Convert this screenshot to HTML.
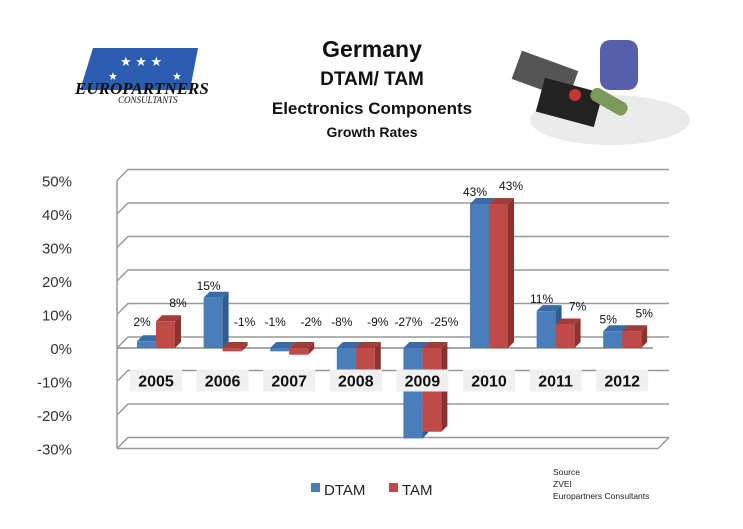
<!DOCTYPE html>
<html><head><meta charset="utf-8"><style>
body{margin:0;background:#fff;width:743px;height:524px;overflow:hidden;font-family:"Liberation Sans",sans-serif}
</style></head><body>
<svg width="743" height="524" id="svg" xmlns="http://www.w3.org/2000/svg">
<g>
<polygon points="93,48 198,48 190,90 80,90" fill="#2a5db0"/>
<text x="120" y="66" fill="#fff" font-size="13">★ ★ ★</text>
<text x="108" y="80" fill="#fff" font-size="11">★</text><text x="172" y="80" fill="#fff" font-size="11">★</text>
<text x="75" y="94" font-family="Liberation Serif" font-style="italic" font-weight="bold" font-size="17" fill="#111">EUROPARTNERS</text>
<text x="118" y="103" font-family="Liberation Serif" font-style="italic" font-size="9" fill="#111">CONSULTANTS</text>
</g>
<g>
<ellipse cx="610" cy="120" rx="80" ry="25" fill="#ddd" opacity="0.6"/>
<rect x="600" y="40" width="38" height="50" rx="10" fill="#5560a8"/>
<rect x="515" y="60" width="60" height="30" fill="#555" transform="rotate(20 545 75)"/>
<rect x="540" y="85" width="60" height="35" fill="#222" transform="rotate(15 570 100)"/>
<rect x="590" y="95" width="40" height="14" rx="6" fill="#7a9a5a" transform="rotate(30 610 100)"/>
<circle cx="575" cy="95" r="6" fill="#c33"/>
</g>
<g font-weight="bold" text-anchor="middle" fill="#111">
<text x="372" y="57" font-size="23">Germany</text>
<text x="372" y="85" font-size="19">DTAM/ TAM</text>
<text x="372" y="114" font-size="17">Electronics Components</text>
<text x="372" y="137" font-size="14">Growth Rates</text>
</g>
<g id="plot"></g>
<g font-size="15" fill="#222">
<rect x="311" y="483" width="9" height="9" fill="#4a7ebb"/>
<text x="324" y="495">DTAM</text>
<rect x="389" y="483" width="9" height="9" fill="#be4b48"/>
<text x="402" y="495">TAM</text>
</g>
<g font-size="8.5" fill="#222">
<text x="553" y="475">Source</text><text x="553" y="487">ZVEI</text><text x="553" y="499">Europartners Consultants</text>
</g>
</svg>
<script>
const categories=["2005","2006","2007","2008","2009","2010","2011","2012"];
const dtam=[2,15,-1,-8,-27,43,11,5];
const tam=[8,-1,-2,-9,-25,43,7,5];
const yTicks=[50,40,30,20,10,0,-10,-20,-30];
const NS="http://www.w3.org/2000/svg";
const plot=document.getElementById('plot');
const D=11, x0=117, x1=658;
function y(v){return 348-v*3.35;}
function cx(i){return 156+i*66.6;}
function mk(tag,attrs,parent){const e=document.createElementNS(NS,tag);for(const k in attrs)e.setAttribute(k,attrs[k]);(parent||plot).appendChild(e);return e;}
yTicks.forEach(v=>{
  const l=mk('polyline',{points:`${x0},${y(v)} ${x0+D},${y(v)-D} ${x1+D},${y(v)-D}`,fill:'none',stroke:'#999','stroke-width':1.5});
  
  
  const t=mk('text',{x:72,y:y(v)+6,'text-anchor':'end','font-size':15,fill:'#333'});
  t.textContent=v+'%';
  
  
});
mk('line',{x1:x0,y1:y(50),x2:x0,y2:y(-30),stroke:'#999','stroke-width':1.5});
mk('polyline',{points:`${x0},${y(-30)} ${x1},${y(-30)} ${x1+D},${y(-30)-D}`,fill:'none',stroke:'#999','stroke-width':1.5});
mk('line',{x1:x0,y1:y(0),x2:x1-5,y2:y(0),stroke:'#888','stroke-width':1.5});
function bar(x,v,front,side,top,name){
  const w=19,d=6;const a=y(Math.max(v,0)),b=y(Math.min(v,0));
  const g=mk('g',{});
  
  
  mk('polygon',{points:`${x+w},${a} ${x+w+d},${a-d} ${x+w+d},${b-d} ${x+w},${b}`,fill:side},g);
  mk('polygon',{points:`${x},${a} ${x+d},${a-d} ${x+w+d},${a-d} ${x+w},${a}`,fill:top},g);
  mk('rect',{x:x,y:a,width:w,height:Math.max(b-a,1),fill:front},g);
}
categories.forEach((c,i)=>{
  const x=cx(i);
  bar(x-19,dtam[i],'#4a7ebb','#2f5c92','#3a6aa8','bar-dtam-'+c);
  bar(x,tam[i],'#be4b48','#8c3330','#a33d3a','bar-tam-'+c);
  const l1=mk('text',{x:x-14,y:(dtam[i]>3?y(dtam[i])-8:y(0)-22),'text-anchor':'middle','font-size':12,fill:'#111'});
  l1.textContent=dtam[i]+'%';
  
  
  const l2=mk('text',{x:x+22,y:(tam[i]>3?y(tam[i])-14:y(0)-22),'text-anchor':'middle','font-size':12,fill:'#111'});
  l2.textContent=tam[i]+'%';
  
  
});
categories.forEach((c,i)=>{
  const x=cx(i);
  const lb=mk('rect',{x:x-26,y:y(-10)-12,width:52,height:22,fill:'#f0f0f0'});
  
  
  const t=mk('text',{x:x,y:y(-10)+5,'text-anchor':'middle','font-size':16,'font-weight':'bold',fill:'#111'});
  t.textContent=c;
  
  
});
</script>
</body></html>
